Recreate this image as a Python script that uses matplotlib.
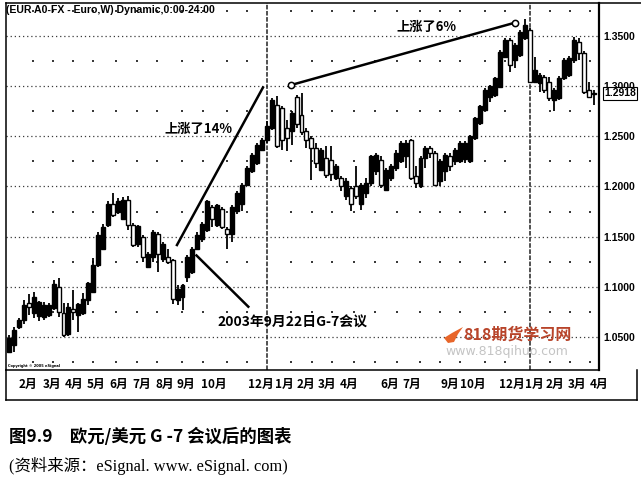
import matplotlib
matplotlib.use("Agg")
import matplotlib.pyplot as plt
import matplotlib.transforms as mtransforms
from matplotlib.lines import Line2D
from matplotlib.patches import Polygon
import numpy as np

# ---------------- data (weekly EUR/USD candles) ----------------
opens = [1.035, 1.042, 1.060, 1.067, 1.084, 1.074, 1.071, 1.070, 1.072, 1.079,
         1.100, 1.074, 1.053, 1.078, 1.072, 1.074, 1.087, 1.095, 1.122, 1.138,
         1.162, 1.183, 1.175, 1.168, 1.186, 1.162, 1.143, 1.150, 1.120, 1.130,
         1.153, 1.128, 1.130, 1.127, 1.087, 1.090, 1.110, 1.115, 1.138, 1.148,
         1.157, 1.180, 1.162, 1.178, 1.158, 1.153, 1.176, 1.183, 1.201, 1.215,
         1.223, 1.236, 1.246, 1.258, 1.281, 1.278, 1.258, 1.255, 1.289, 1.271,
         1.255, 1.248, 1.238, 1.216, 1.228, 1.226, 1.208, 1.208, 1.190, 1.198,
         1.200, 1.183, 1.193, 1.203, 1.215, 1.226, 1.196, 1.208, 1.218, 1.225,
         1.230, 1.246, 1.210, 1.200, 1.228, 1.238, 1.233, 1.205, 1.215, 1.230,
         1.225, 1.225, 1.227, 1.225, 1.248, 1.263, 1.276, 1.289, 1.291, 1.299,
         1.329, 1.346, 1.326, 1.331, 1.348, 1.356, 1.304, 1.303, 1.309, 1.304,
         1.286, 1.288, 1.308, 1.311, 1.326, 1.344, 1.333, 1.296, 1.293]
highs = [1.052, 1.060, 1.069, 1.087, 1.093, 1.095, 1.086, 1.085, 1.084, 1.107,
         1.109, 1.084, 1.084, 1.097, 1.084, 1.094, 1.105, 1.129, 1.155, 1.163,
         1.185, 1.193, 1.188, 1.189, 1.190, 1.164, 1.162, 1.152, 1.135, 1.157,
         1.155, 1.145, 1.138, 1.128, 1.102, 1.103, 1.132, 1.140, 1.155, 1.165,
         1.186, 1.182, 1.183, 1.180, 1.160, 1.182, 1.195, 1.203, 1.220, 1.233,
         1.243, 1.248, 1.265, 1.288, 1.290, 1.280, 1.266, 1.275, 1.291, 1.293,
         1.258, 1.250, 1.243, 1.238, 1.240, 1.240, 1.222, 1.210, 1.208, 1.200,
         1.220, 1.203, 1.208, 1.231, 1.233, 1.230, 1.218, 1.222, 1.236, 1.245,
         1.246, 1.247, 1.220, 1.230, 1.240, 1.240, 1.235, 1.227, 1.233, 1.233,
         1.238, 1.245, 1.245, 1.251, 1.269, 1.281, 1.298, 1.301, 1.309, 1.336,
         1.348, 1.348, 1.343, 1.356, 1.367, 1.358, 1.329, 1.313, 1.311, 1.309,
         1.298, 1.310, 1.328, 1.330, 1.349, 1.348, 1.335, 1.304, 1.296]
lows = [1.034, 1.035, 1.058, 1.063, 1.072, 1.069, 1.066, 1.067, 1.070, 1.077,
        1.070, 1.050, 1.051, 1.067, 1.055, 1.072, 1.082, 1.094, 1.120, 1.137,
        1.160, 1.170, 1.173, 1.167, 1.157, 1.140, 1.140, 1.125, 1.119, 1.125,
        1.115, 1.125, 1.123, 1.083, 1.082, 1.077, 1.105, 1.113, 1.137, 1.145,
        1.155, 1.160, 1.160, 1.158, 1.138, 1.145, 1.173, 1.176, 1.200, 1.213,
        1.221, 1.235, 1.243, 1.256, 1.238, 1.236, 1.235, 1.241, 1.258, 1.251,
        1.238, 1.206, 1.218, 1.215, 1.208, 1.205, 1.206, 1.195, 1.186, 1.176,
        1.187, 1.177, 1.188, 1.200, 1.211, 1.198, 1.195, 1.205, 1.215, 1.223,
        1.218, 1.206, 1.198, 1.198, 1.218, 1.228, 1.200, 1.200, 1.205, 1.215,
        1.221, 1.223, 1.223, 1.223, 1.246, 1.261, 1.275, 1.284, 1.289, 1.298,
        1.328, 1.314, 1.318, 1.329, 1.346, 1.303, 1.303, 1.294, 1.293, 1.285,
        1.275, 1.286, 1.306, 1.309, 1.323, 1.326, 1.292, 1.288, 1.281]
closes = [1.049, 1.057, 1.067, 1.082, 1.080, 1.090, 1.085, 1.082, 1.082, 1.103,
          1.075, 1.052, 1.080, 1.075, 1.083, 1.088, 1.104, 1.122, 1.152, 1.160,
          1.183, 1.172, 1.185, 1.186, 1.162, 1.142, 1.161, 1.130, 1.133, 1.155,
          1.133, 1.143, 1.125, 1.088, 1.098, 1.102, 1.130, 1.138, 1.152, 1.163,
          1.185, 1.168, 1.182, 1.160, 1.153, 1.180, 1.193, 1.201, 1.218, 1.231,
          1.241, 1.246, 1.260, 1.286, 1.240, 1.246, 1.248, 1.273, 1.262, 1.254,
          1.246, 1.238, 1.223, 1.236, 1.211, 1.212, 1.220, 1.200, 1.205, 1.183,
          1.190, 1.201, 1.203, 1.230, 1.231, 1.201, 1.216, 1.220, 1.233, 1.243,
          1.243, 1.208, 1.203, 1.228, 1.238, 1.233, 1.201, 1.225, 1.231, 1.220,
          1.236, 1.243, 1.243, 1.250, 1.268, 1.280, 1.296, 1.300, 1.308, 1.334,
          1.346, 1.321, 1.341, 1.354, 1.361, 1.304, 1.316, 1.311, 1.296, 1.288,
          1.296, 1.308, 1.326, 1.328, 1.346, 1.333, 1.294, 1.289, 1.2918]

price_ticks = [1.05, 1.10, 1.15, 1.20, 1.25, 1.30, 1.35]
month_labels = ["2月", "3月", "4月", "5月", "6月", "7月", "8月", "9月", "10月",
                "12月", "1月", "2月", "3月", "4月", "6月", "7月", "9月", "10月",
                "12月", "1月", "2月", "3月", "4月"]
title_text = "(EUR A0-FX - Euro,W) Dynamic,0:00-24:00"
rise14_text = "上涨了14%"
rise6_text = "上涨了6%"
g7_text = "2003年9月22日G-7会议"
caption_text = "图9.9　欧元/美元 G -7 会议后的图表"
source_text = "(资料来源：eSignal. www. eSignal. com)"

# ---------------- layout (bar-index units / pixels) ----------------
month_label_pos = [3.9, 8.7, 13.2, 17.5, 22.2, 26.7, 31.4, 35.6, 41.3, 50.8, 55.5,
                   59.8, 64.2, 68.6, 76.8, 81.2, 89.0, 93.5, 101.5, 106.0, 110.1,
                   114.5, 119.1]
month_grid_pos = [4.84, 8.87, 12.91, 16.94, 21.58, 25.92, 29.85, 34.89, 39.13,
                  43.97, 48.0, 56.88, 61.11, 65.15, 69.58, 73.82, 78.26, 82.9,
                  86.93, 90.97, 96.0, 100.04, 109.11, 113.15, 117.18]
year_lines = [52.04, 105.18]

W, H = 641, 479
def fx(px):
    return px / W
def fy(py):
    return 1 - py / H

plt.rcParams["font.family"] = ["Noto Sans CJK SC", "DejaVu Sans"]
fig = plt.figure(figsize=(W / 100, H / 100), dpi=100)
fig.patch.set_facecolor("white")
ax = fig.add_axes([fx(6), fy(370), fx(599) - fx(6), fy(3) - fy(370)])
ax.set_facecolor("white")
ax.set_xlim(-0.6, 119.0)
ax.set_ylim(1.0170, 1.3829)

# grid
for p in price_ticks:
    ax.axhline(p, color="#3a3a3a", lw=0.9, ls=(0, (1, 2.3)), zorder=1)
dot_levels = np.arange(1.025, 1.3800, 0.05)
gx, gy = np.meshgrid(month_grid_pos, dot_levels)
ax.scatter(gx.ravel(), gy.ravel(), s=1.8, marker="s", color="#3a3a3a", lw=0, zorder=1)
for xl in year_lines:
    ax.axvline(xl, color="#222222", lw=1.1, ls=(0, (3, 1)), zorder=1)

# candles
x = np.arange(len(closes))
o = np.array(opens); c = np.array(closes)
h = np.array(highs); l = np.array(lows)
up = c >= o
ax.vlines(x, l, h, color="black", lw=1.3, zorder=2)
bottoms = np.minimum(o, c)
heights = np.maximum(np.abs(c - o), 0.0015)
ax.bar(x, heights, bottom=bottoms, width=0.8,
       color=np.where(up, "black", "white"), edgecolor="black", linewidth=1.0, zorder=3)

# spines
for s in ax.spines.values():
    s.set_color("black")
    s.set_linewidth(1.1)
ax.spines["right"].set_linewidth(1.6)

ax.set_xticks([])
ax.yaxis.tick_right()
ax.set_yticks(price_ticks)
ax.set_yticklabels([f"{p:.4f}" for p in price_ticks], fontsize=7.5,
                   fontweight="bold", family=["Liberation Sans"])
ax.tick_params(axis="y", length=0, pad=3)

# current price box (covers the lower part of the 1.3000 label, as in the original)
ax.annotate(f"{closes[-1]:.4f}", xy=(1.0, closes[-1]),
            xycoords=mtransforms.blended_transform_factory(ax.transAxes, ax.transData),
            xytext=(5, 1), textcoords="offset pixels",
            ha="left", va="center", fontsize=7.5, fontweight="bold", family=["Liberation Sans"],
            bbox=dict(boxstyle="square,pad=0.12", fc="white", ec="black", lw=0.8),
            annotation_clip=False, zorder=10)

# month labels in the box under the plot
tr = mtransforms.blended_transform_factory(ax.transData, fig.transFigure)
for pos, lab in zip(month_label_pos, month_labels):
    ax.text(pos, fy(384), lab, transform=tr, ha="center", va="center",
            fontsize=8.5, fontweight="bold", clip_on=False)

# frame of label box
fl = dict(transform=fig.transFigure, color="black", lw=1.1)
fig.add_artist(Line2D([fx(6), fx(6)], [fy(370), fy(400)], **fl))
fig.add_artist(Line2D([fx(6), fx(637)], [fy(400), fy(400)], **fl))
fig.add_artist(Line2D([fx(637), fx(637)], [fy(370), fy(400)], **fl))
fig.add_artist(Line2D([fx(599), fx(641)], [fy(3), fy(3)], **fl))

# title
fig.text(fx(6), fy(10), title_text, fontsize=7.6, fontweight="bold",
         family=["Liberation Sans"], ha="left", va="center")
fig.text(fx(8), fy(366), "Copyright © 2005 eSignal", fontsize=2.6, fontweight="bold",
         family=["DejaVu Sans"], ha="left", va="center")

# annotations
ax.plot([33.88, 51.23], [1.1416, 1.2987], color="black", lw=1.8, zorder=5)
ax.plot([37.82, 48.27], [1.1312, 1.0801], color="black", lw=1.8, zorder=5)
ax.plot([56.88, 102.06], [1.3011, 1.3633], color="black", lw=1.8, zorder=5,
        marker="o", ms=4.5, mfc="white", mec="black", mew=1.1)
ax.text(38.2, 1.2578, rise14_text, fontsize=9.5, fontweight="bold", ha="center", va="center", zorder=6)
ax.text(84.3, 1.3590, rise6_text, fontsize=9.5, fontweight="bold", ha="center", va="center", zorder=6)
ax.text(57.2, 1.0639, g7_text, fontsize=10, fontweight="bold", ha="center", va="center", zorder=6)

# watermark
fig.add_artist(Polygon([[fx(444), fy(338)], [fx(452), fy(333)], [fx(463), fy(327)],
                        [fx(458), fy(334)], [fx(454), fy(342)], [fx(448), fy(343)]],
                       closed=True, transform=fig.transFigure, fc="#e8662a", ec="none"))
fig.text(fx(463), fy(335), "818期货学习网", fontsize=11.5, fontweight="bold",
         color="#b8442a", ha="left", va="center")
fig.text(fx(507), fy(352), "www.818qihuo.com", fontsize=9, color="#c4c4c4",
         family=["DejaVu Sans"], ha="center", va="center")

# caption
fig.text(fx(9), fy(437), caption_text, fontsize=12.5, fontweight="bold",
         ha="left", va="center")
fig.text(fx(9), fy(466), source_text, fontsize=11.8,
         family=["Liberation Serif", "Noto Sans CJK SC"], ha="left", va="center")

fig.savefig("out.png", dpi=100, facecolor="white")
